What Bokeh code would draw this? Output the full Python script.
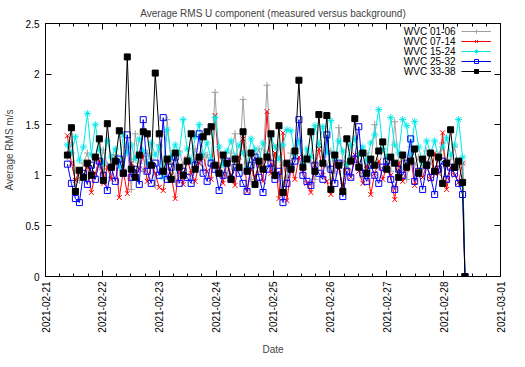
import pandas as pd
from bokeh.plotting import figure
from bokeh.models import (FixedTicker, LinearAxis, Legend, LegendItem, Label, Range1d)
from bokeh.embed import file_html
from bokeh.resources import INLINE

FONT = "Liberation Sans"

# ---------------- data ----------------
title_text = "Average RMS U component (measured versus background)"
x_title = "Date"
y_title = "Average RMS m/s"
series_names = ["WVC 01-06", "WVC 07-14", "WVC 15-24", "WVC 25-32", "WVC 33-38"]

t_first = "2021-02-21 09:15"
t_last = "2021-02-28 08:00"
n_points = 100
t_end = "2021-02-28 09:00"   # final sample, where every series drops to 0

wvc_01_06 = [
    1.18, 1.32, 1.05, 0.95, 1.12, 1.22, 1.02, 1.15, 1.08, 1.25,
    1.10, 0.98, 1.20, 1.14, 1.06, 1.28, 0.86, 1.41, 1.12, 1.04,
    1.22, 1.16, 0.90, 1.30, 1.08, 1.55, 1.12, 0.96, 1.24, 1.10,
    1.18, 1.02, 1.26, 1.14, 1.06, 1.20, 1.10, 1.82, 1.08, 1.16,
    1.00, 1.22, 1.41, 1.05, 1.75, 1.12, 0.94, 1.18, 1.26, 1.08,
    1.89, 1.14, 1.02, 1.30, 1.10, 0.98, 1.22, 1.16, 1.34, 1.06,
    1.20, 1.12, 0.96, 1.28, 1.18, 1.08, 1.24, 1.02, 1.47, 1.14,
    1.06, 1.30, 1.18, 1.10, 0.98, 1.22, 1.12, 1.50, 1.08, 1.26,
    1.16, 1.04, 1.53, 1.12, 1.20, 0.96, 1.28, 1.10, 1.18, 1.06,
    1.24, 1.14, 1.02, 1.20, 1.32, 1.10, 1.16, 1.28, 1.08, 1.12,
    0.0]
wvc_07_14 = [
    1.39, 1.12, 0.95, 1.05, 0.98, 1.10, 0.83, 1.02, 1.15, 0.92,
    1.08, 0.96, 1.18, 0.78, 1.04, 0.82, 1.12, 0.98, 1.06, 1.20,
    0.94, 1.10, 1.02, 0.88, 0.85, 1.14, 1.00, 0.77, 1.08, 0.91,
    1.16, 1.02, 0.94, 1.12, 1.20, 1.04, 0.96, 1.59, 1.08, 0.92,
    1.14, 1.00, 0.90, 1.18, 1.36, 0.84, 1.06, 0.98, 1.12, 0.94,
    1.63, 1.02, 1.22, 0.77, 1.42, 0.75, 1.08, 0.96, 1.18, 1.04,
    0.92, 0.83, 1.10, 1.26, 1.00, 0.94, 0.81, 1.16, 1.06, 0.90,
    1.12, 0.98, 1.20, 1.04, 0.92, 1.10, 0.81, 1.02, 1.14, 0.96,
    1.08, 1.00, 0.76, 1.12, 0.94, 1.06, 1.18, 0.90, 1.04, 0.98,
    1.10, 0.96, 1.22, 1.02, 1.42, 0.86, 1.08, 1.00, 0.93, 1.12,
    0.0]
wvc_15_24 = [
    1.30, 1.22, 1.38, 1.15, 1.28, 1.61, 1.20, 1.50, 1.25, 1.12,
    1.34, 1.18, 1.26, 1.08, 1.40, 1.22, 1.30, 1.16, 1.36, 1.24,
    1.12, 1.32, 1.20, 1.28, 0.98, 1.45, 1.18, 1.30, 1.22, 1.55,
    1.26, 1.14, 1.38, 1.50, 1.20, 1.32, 1.16, 1.57, 1.28, 1.10,
    1.24, 1.34, 1.18, 1.30, 1.22, 1.08, 1.36, 1.26, 1.14, 1.32,
    1.20, 1.38, 1.28, 1.16, 1.30, 1.45, 1.44, 1.20, 1.34, 1.12,
    1.26, 1.18, 1.49, 1.30, 1.48, 1.22, 1.54, 1.16, 1.34, 1.24,
    1.10, 1.30, 1.36, 1.20, 1.28, 1.14, 1.32, 1.40, 1.65, 1.26,
    1.18, 1.57, 1.30, 1.22, 1.55, 1.49, 1.20, 1.53, 1.28, 1.12,
    1.34, 1.22, 1.34, 1.16, 1.28, 1.37, 1.20, 1.30, 1.55, 1.18,
    0.0]
wvc_25_32 = [
    1.11, 0.92, 0.77, 0.73, 1.02, 0.91, 1.10, 0.96, 1.14, 1.00,
    0.85, 1.08, 0.94, 1.16, 1.02, 1.40, 0.98, 1.06, 0.91, 1.55,
    1.04, 0.92, 1.12, 1.00, 1.57, 0.96, 1.08, 1.18, 0.92, 1.04,
    0.98, 0.92, 1.10, 1.41, 1.02, 0.94, 1.12, 1.06, 0.85, 1.00,
    1.14, 0.96, 1.08, 1.02, 0.92, 0.84, 1.10, 1.18, 0.98, 0.83,
    1.06, 1.12, 0.96, 1.04, 0.73, 0.92, 1.08, 1.14, 1.55, 1.00,
    0.94, 0.90, 1.10, 1.02, 0.96, 1.40, 1.06, 0.92, 1.12, 0.79,
    1.04, 0.98, 1.16, 1.48, 1.02, 0.94, 1.10, 1.00, 0.92, 1.08,
    1.14, 0.96, 0.86, 1.06, 1.00, 1.12, 1.36, 0.94, 1.04, 0.86,
    1.10, 0.98, 0.81, 1.06, 1.14, 0.96, 1.08, 1.02, 0.92, 0.81,
    0.0]
wvc_33_38 = [
    1.20, 1.47, 0.84, 1.05, 0.98, 1.12, 1.00, 1.18, 1.36, 0.95,
    1.51, 1.08, 1.14, 1.44, 1.02, 2.17, 1.06, 0.98, 1.20, 1.43,
    1.41, 1.10, 2.01, 1.41, 1.04, 1.16, 0.96, 1.22, 1.08, 1.00,
    1.14, 1.41, 1.06, 1.18, 1.38, 1.43, 1.48, 1.10, 1.02, 1.20,
    1.12, 0.96, 1.16, 1.08, 1.43, 1.04, 1.22, 0.91, 1.14, 1.06,
    1.18, 1.41, 1.00, 1.49, 0.83, 1.12, 1.06, 1.24, 1.94, 1.08,
    1.16, 1.43, 1.04, 1.60, 1.12, 1.59, 0.86, 1.20, 1.10, 0.84,
    1.36, 1.14, 1.56, 1.08, 1.22, 1.02, 1.16, 1.10, 1.24, 1.33,
    1.06, 1.18, 1.12, 0.98, 1.20, 1.08, 1.14, 1.26, 1.02, 1.16,
    1.10, 1.22, 1.04, 1.18, 0.92, 1.12, 1.45, 1.08, 1.14, 0.93,
    0.0]

x_tick_labels = ["2021-02-21", "2021-02-22", "2021-02-23", "2021-02-24", "2021-02-25",
                 "2021-02-26", "2021-02-27", "2021-02-28", "2021-03-01"]
y_tick_values = [0, 0.5, 1, 1.5, 2, 2.5]
y_tick_labels = ["0", "0.5", "1", "1.5", "2", "2.5"]

# ---------------- build ----------------
times = list(pd.date_range(t_first, t_last, periods=n_points)) + [pd.Timestamp(t_end)]
series = [wvc_01_06, wvc_07_14, wvc_15_24, wvc_25_32, wvc_33_38]

day_ts = [pd.Timestamp(s) for s in x_tick_labels]
day_ms = [int(t.value // 10**6) for t in day_ts]
minor_ms = [int(t.value // 10**6) for t in pd.date_range(day_ts[0], day_ts[-1], freq="6h")]

p = figure(frame_width=455, frame_height=253, output_backend="svg", toolbar_location=None,
           x_axis_type="datetime",
           x_range=Range1d(day_ts[0], day_ts[-1]), y_range=Range1d(0, 2.5),
           min_border_left=41, min_border_right=13, min_border_top=23, min_border_bottom=75,
           title=title_text)
p.title.align = "center"
p.title.text_font = FONT
p.title.text_font_size = "10px"
p.title.text_font_style = "normal"
p.xgrid.visible = False
p.ygrid.visible = False
p.outline_line_color = "black"
p.background_fill_color = "white"
p.border_fill_color = "white"

xt = FixedTicker(ticks=day_ms, minor_ticks=minor_ms)
yt = FixedTicker(ticks=y_tick_values)

def style_axis(ax, show_labels):
    ax.axis_line_color = "black"
    ax.major_tick_in = 6
    ax.major_tick_out = 0
    ax.minor_tick_in = 3
    ax.minor_tick_out = 0
    ax.major_tick_line_color = "black"
    ax.minor_tick_line_color = "black"
    ax.major_label_text_font = FONT
    if show_labels:
        ax.major_label_text_font_size = "10px"
        ax.major_label_text_color = "black"
    else:
        ax.major_label_text_font_size = "1px"
        ax.major_label_text_color = None
    ax.axis_label_text_font = FONT
    ax.axis_label_text_font_size = "10px"
    ax.axis_label_text_font_style = "normal"

xa = p.xaxis[0]
xa.ticker = xt
xa.major_label_overrides = {ms: lab for ms, lab in zip(day_ms, x_tick_labels)}
style_axis(xa, True)
xa.major_label_orientation = 3.14159265 / 2
xa.major_label_standoff = 5
xa.axis_label = x_title
xa.axis_label_standoff = 8

ya = p.yaxis[0]
ya.ticker = yt
ya.major_label_overrides = {v: lab for v, lab in zip(y_tick_values, y_tick_labels)}
style_axis(ya, True)
ya.minor_tick_line_color = None
ya.major_label_standoff = 6
ya.axis_label = y_title
ya.axis_label_standoff = 8

top_ax = LinearAxis(ticker=xt, major_label_standoff=0)
style_axis(top_ax, False)
p.add_layout(top_ax, "above")
right_ax = LinearAxis(ticker=yt, major_label_standoff=0)
style_axis(right_ax, False)
right_ax.minor_tick_line_color = None
p.add_layout(right_ax, "right")

styles = [
    dict(color="#a0a0a0", marker="cross", size=7, fill=True),
    dict(color="#ff0000", marker="x", size=7, fill=True),
    dict(color="#00e8e8", marker="asterisk", size=7, fill=True),
    dict(color="#0000ff", marker="square", size=6, fill=False),
    dict(color="#000000", marker="square", size=6, fill=True),
]

items = []
for name, vals, st in zip(series_names, series, styles):
    ln = p.line(times, vals, line_color=st["color"], line_width=1)
    sc = p.scatter(times, vals, marker=st["marker"], size=st["size"],
                   line_color=st["color"], line_width=1,
                   fill_color=st["color"] if st["fill"] else None)
    items.append(LegendItem(label=" ", renderers=[ln, sc]))

leg = Legend(items=items, location=(416, 200), glyph_width=30, glyph_height=10,
             label_height=10, label_width=0, label_standoff=0, spacing=0,
             padding=0, margin=0, label_text_font_size="1px", label_text_color=None,
             border_line_color=None, background_fill_alpha=0)
p.add_layout(leg)

row_y = [245, 235, 225, 215, 205]
for name, yy in zip(series_names, row_y):
    p.add_layout(Label(x=410, y=yy, x_units="screen", y_units="screen", text=name,
                       text_align="right", text_baseline="middle",
                       text_font=FONT, text_font_size="10px", text_color="black"))

open("out.html", "w").write(file_html(p, INLINE))
